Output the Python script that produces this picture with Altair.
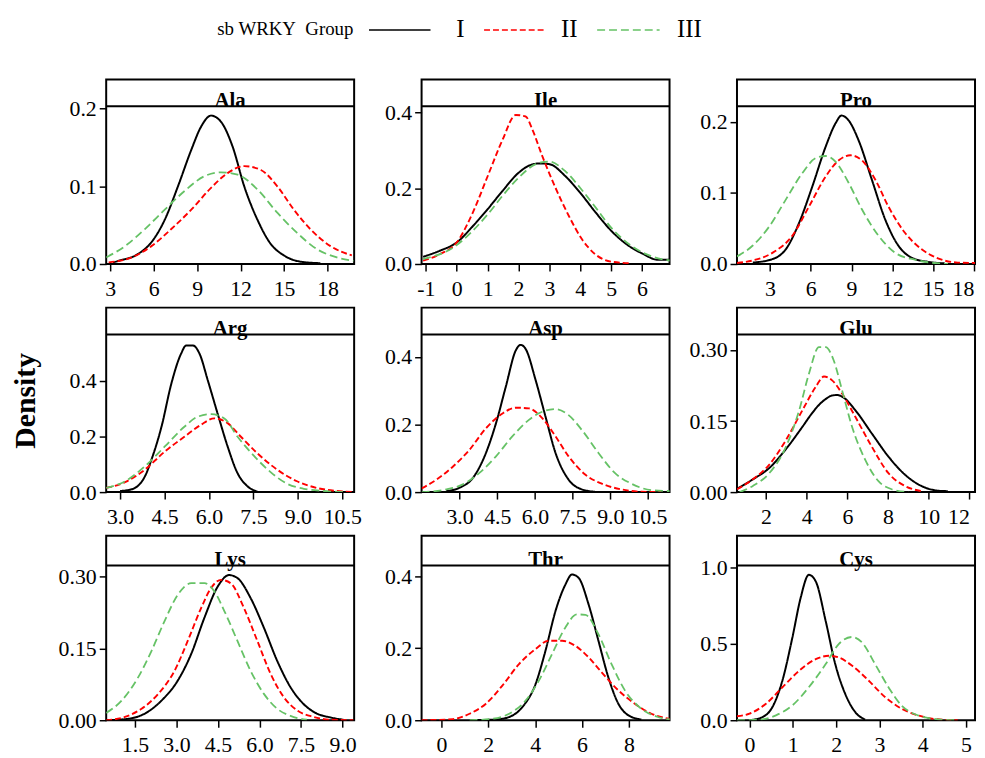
import altair as alt
import pandas as pd

SERIF = "Liberation Serif"
GROUPS = ["I", "II", "III"]
COLORS = ["#000000", "#ff0000", "#66c266"]
DASHES = [[1, 0], [6, 3], [8, 4]]
WIDTHS = [2.0, 1.8, 1.8]
LEGEND_TITLE = "sb WRKY\u00a0 Group"

# ---- density curves: (x, density) ----
ALA_I = [(3.2, 0.002), (3.57, 0.004), (4.94, 0.013), (5.85, 0.028), (6.77, 0.057), (7.68, 0.100),
         (8.6, 0.147), (9.28, 0.177), (9.96, 0.191), (10.65, 0.183), (11.45, 0.151), (12.25, 0.100),
         (13.16, 0.057), (14.07, 0.026), (14.99, 0.011), (16.13, 0.003), (17.5, 0.001)]
ALA_II = [(2.9, 0.002), (4.5, 0.0085), (5.85, 0.023), (7.22, 0.045), (8.6, 0.070), (9.96, 0.098),
          (11.1, 0.117), (12.25, 0.126), (13.4, 0.121), (14.53, 0.100), (15.67, 0.070), (16.8, 0.045),
          (18.2, 0.023), (19.67, 0.011)]
ALA_III = [(2.73, 0.0085), (4.03, 0.023), (5.4, 0.045), (6.77, 0.070), (8.14, 0.094), (9.5, 0.113),
           (10.65, 0.118), (11.8, 0.115), (13.16, 0.096), (14.53, 0.066), (15.9, 0.040), (17.27, 0.019),
           (18.64, 0.0085), (19.78, 0.004)]

ILE_I = [(-1.09, 0.019), (-0.55, 0.035), (0.0, 0.057), (0.52, 0.100), (1.0, 0.145), (1.48, 0.193),
         (2.0, 0.241), (2.4, 0.262), (2.7, 0.266), (3.0, 0.264), (3.52, 0.232), (4.0, 0.188),
         (4.5, 0.136), (5.0, 0.088), (5.57, 0.048), (6.0, 0.028), (6.52, 0.011), (6.89, 0.011)]
ILE_II = [(-1.09, 0.009), (-0.55, 0.026), (0.0, 0.057), (0.52, 0.136), (1.0, 0.232), (1.48, 0.328),
          (1.91, 0.394), (2.23, 0.390), (2.45, 0.355), (2.77, 0.285), (3.2, 0.201), (3.63, 0.127),
          (4.05, 0.066), (4.48, 0.026), (5.02, 0.006), (5.66, 0.002)]
ILE_III = [(-1.09, 0.013), (0.0, 0.050), (0.52, 0.088), (1.0, 0.131), (1.48, 0.180), (2.0, 0.228),
           (2.56, 0.264), (2.98, 0.271), (3.52, 0.245), (4.0, 0.201), (4.5, 0.149), (5.0, 0.096),
           (5.57, 0.053), (6.0, 0.031), (6.52, 0.015), (6.92, 0.009)]

PRO_I = [(1.73, 0.002), (3.2, 0.007), (4.17, 0.021), (5.14, 0.058), (6.11, 0.109), (7.09, 0.165),
         (7.82, 0.198), (8.26, 0.209), (8.79, 0.202), (9.52, 0.174), (10.49, 0.119), (11.47, 0.063),
         (12.44, 0.026), (13.41, 0.009), (14.63, 0.003), (15.85, 0.001)]
PRO_II = [(0.57, 0.0014), (1.73, 0.005), (3.2, 0.016), (4.65, 0.040), (5.87, 0.081), (7.09, 0.123),
          (8.06, 0.146), (8.91, 0.153), (9.76, 0.146), (10.74, 0.119), (11.71, 0.081), (12.93, 0.044),
          (14.14, 0.021), (15.36, 0.008), (16.82, 0.002), (18.3, 0.0014)]
PRO_III = [(0.57, 0.0107), (1.73, 0.026), (2.95, 0.053), (4.17, 0.091), (5.38, 0.128), (6.36, 0.149),
           (7.09, 0.152), (7.82, 0.144), (8.79, 0.114), (9.76, 0.077), (10.98, 0.040), (12.2, 0.016),
           (13.66, 0.006), (15.1, 0.0014), (16.1, 0.0)]

ARG_I = [(3.0, 0.004), (3.39, 0.010), (3.84, 0.057), (4.06, 0.117), (4.4, 0.236), (4.73, 0.390),
         (5.06, 0.498), (5.23, 0.527), (5.46, 0.527), (5.68, 0.498), (5.96, 0.402), (6.29, 0.283),
         (6.63, 0.164), (6.96, 0.069), (7.3, 0.021), (7.63, 0.002)]
ARG_II = [(2.53, 0.015), (3.17, 0.036), (3.84, 0.081), (4.51, 0.146), (5.18, 0.200), (5.73, 0.242),
          (6.18, 0.265), (6.63, 0.248), (7.07, 0.200), (7.63, 0.140), (8.3, 0.081), (8.97, 0.039),
          (9.64, 0.015), (10.31, 0.004), (10.87, 0.0)]
ARG_III = [(2.53, 0.015), (3.17, 0.039), (3.84, 0.093), (4.51, 0.164), (5.18, 0.236), (5.62, 0.271),
           (6.07, 0.280), (6.52, 0.265), (6.96, 0.200), (7.52, 0.130), (8.08, 0.072), (8.64, 0.030),
           (9.2, 0.012), (9.86, 0.004), (10.53, 0.0)]

ASP_I = [(2.47, 0.003), (3.0, 0.013), (3.53, 0.042), (4.05, 0.116), (4.45, 0.204), (4.84, 0.312),
         (5.24, 0.420), (5.43, 0.436), (5.63, 0.424), (6.03, 0.331), (6.42, 0.224), (6.82, 0.116),
         (7.34, 0.037), (7.87, 0.008), (8.39, 0.001)]
ASP_II = [(1.49, 0.011), (2.08, 0.037), (2.74, 0.076), (3.39, 0.125), (4.05, 0.189), (4.71, 0.233),
          (5.24, 0.250), (5.76, 0.248), (6.29, 0.219), (6.82, 0.165), (7.34, 0.106), (8.0, 0.052),
          (8.66, 0.025), (9.45, 0.008), (10.24, 0.001), (11.03, 0.0)]
ASP_III = [(1.49, 0.0), (2.47, 0.008), (3.13, 0.023), (3.79, 0.057), (4.45, 0.106), (5.1, 0.165),
           (5.76, 0.214), (6.29, 0.238), (6.82, 0.246), (7.34, 0.228), (7.87, 0.184), (8.53, 0.116),
           (9.18, 0.057), (9.84, 0.025), (10.63, 0.006), (11.39, 0.003)]

GLU_I = [(0.57, 0.007), (1.35, 0.027), (2.16, 0.051), (2.98, 0.091), (3.79, 0.138), (4.2, 0.163),
         (4.6, 0.184), (4.95, 0.197), (5.25, 0.204), (5.5, 0.205), (5.8, 0.200), (6.39, 0.173),
         (7.2, 0.124), (8.02, 0.075), (8.83, 0.037), (9.64, 0.013), (10.46, 0.003), (10.94, 0.002)]
GLU_II = [(0.57, 0.006), (1.35, 0.027), (2.16, 0.058), (2.98, 0.110), (3.79, 0.173), (4.44, 0.222),
          (4.85, 0.244), (5.25, 0.236), (5.74, 0.208), (6.39, 0.159), (7.2, 0.096), (8.02, 0.040),
          (8.83, 0.013), (9.64, 0.002)]
GLU_III = [(0.7, 0.0), (1.35, 0.013), (2.16, 0.040), (2.98, 0.096), (3.63, 0.173), (4.11, 0.250),
           (4.6, 0.306), (4.93, 0.306), (5.33, 0.278), (5.74, 0.215), (6.23, 0.138), (6.88, 0.068),
           (7.53, 0.023), (8.18, 0.006), (9.0, 0.0)]

LYS_I = [(0.46, 0.0), (1.26, 0.003), (1.86, 0.014), (2.46, 0.041), (3.05, 0.083), (3.53, 0.138),
         (4.01, 0.214), (4.49, 0.279), (4.9, 0.303), (5.2, 0.297), (5.68, 0.255), (6.16, 0.193),
         (6.64, 0.124), (7.12, 0.069), (7.59, 0.034), (8.07, 0.014), (8.55, 0.006), (9.03, 0.001)]
LYS_II = [(0.46, 0.0), (1.14, 0.007), (1.74, 0.024), (2.34, 0.055), (2.93, 0.103), (3.41, 0.166),
          (3.89, 0.234), (4.25, 0.276), (4.61, 0.293), (4.96, 0.286), (5.44, 0.234), (5.92, 0.166),
          (6.4, 0.097), (6.88, 0.048), (7.35, 0.021), (7.95, 0.007), (8.55, 0.001), (9.39, 0.0)]
LYS_III = [(0.46, 0.015), (1.02, 0.041), (1.62, 0.090), (2.1, 0.145), (2.57, 0.207), (3.05, 0.262),
           (3.53, 0.286), (4.01, 0.286), (4.37, 0.269), (4.73, 0.228), (5.2, 0.166), (5.68, 0.103),
           (6.16, 0.055), (6.64, 0.024), (7.12, 0.009), (7.71, 0.001)]

THR_I = [(1.2, 0.0), (2.33, 0.002), (2.89, 0.009), (3.46, 0.037), (4.02, 0.101), (4.44, 0.193),
         (4.87, 0.304), (5.29, 0.377), (5.57, 0.405), (5.85, 0.396), (6.28, 0.322), (6.7, 0.221),
         (7.12, 0.120), (7.55, 0.046), (7.97, 0.014), (8.53, 0.002)]
THR_II = [(-0.85, 0.0), (0.49, 0.003), (1.2, 0.018), (1.9, 0.046), (2.61, 0.097), (3.31, 0.156),
          (4.02, 0.198), (4.58, 0.221), (5.15, 0.221), (5.71, 0.207), (6.28, 0.175), (6.84, 0.133),
          (7.55, 0.083), (8.25, 0.046), (8.96, 0.018), (9.77, 0.003)]
THR_III = [(1.2, 0.0), (2.05, 0.003), (2.89, 0.018), (3.6, 0.055), (4.16, 0.110), (4.72, 0.184),
           (5.29, 0.258), (5.78, 0.294), (6.14, 0.293), (6.7, 0.239), (7.26, 0.156), (7.83, 0.083),
           (8.53, 0.032), (9.24, 0.009), (9.77, 0.002)]

CYS_I = [(0.0, 0.0), (0.31, 0.022), (0.53, 0.087), (0.76, 0.26), (0.99, 0.541), (1.18, 0.80),
         (1.37, 0.952), (1.53, 0.909), (1.76, 0.649), (1.98, 0.368), (2.21, 0.173), (2.44, 0.054),
         (2.67, 0.004)]
CYS_II = [(-0.29, 0.026), (0.0, 0.043), (0.38, 0.108), (0.76, 0.216), (1.15, 0.325), (1.53, 0.40),
          (1.83, 0.422), (2.06, 0.411), (2.37, 0.357), (2.75, 0.26), (3.13, 0.152), (3.51, 0.076),
          (3.89, 0.032), (4.35, 0.006), (4.81, 0.0)]
CYS_III = [(-0.29, 0.0), (0.23, 0.004), (0.61, 0.032), (0.99, 0.097), (1.37, 0.216), (1.76, 0.368),
           (2.06, 0.498), (2.37, 0.545), (2.6, 0.509), (2.9, 0.368), (3.21, 0.216), (3.51, 0.097),
           (3.89, 0.032), (4.35, 0.006), (4.81, 0.0)]

PANEL_NAMES = ["Ala", "Ile", "Pro", "Arg", "Asp", "Glu", "Lys", "Thr", "Cys"]
CURVES = {
    "Ala": (ALA_I, ALA_II, ALA_III), "Ile": (ILE_I, ILE_II, ILE_III), "Pro": (PRO_I, PRO_II, PRO_III),
    "Arg": (ARG_I, ARG_II, ARG_III), "Asp": (ASP_I, ASP_II, ASP_III), "Glu": (GLU_I, GLU_II, GLU_III),
    "Lys": (LYS_I, LYS_II, LYS_III), "Thr": (THR_I, THR_II, THR_III), "Cys": (CYS_I, CYS_II, CYS_III),
}
X_DOMAINS = {
    "Ala": [2.73, 19.83], "Ile": [-1.139, 6.89], "Pro": [0.565, 18.09],
    "Arg": [2.531, 10.90], "Asp": [1.487, 11.36], "Glu": [0.569, 12.28],
    "Lys": [0.461, 9.42], "Thr": [-0.847, 9.735], "Cys": [-0.29, 5.21],
}
X_TICKS = {
    "Ala": [3, 6, 9, 12, 15, 18], "Ile": [-1, 0, 1, 2, 3, 4, 5, 6], "Pro": [3, 6, 9, 12, 15, 18],
    "Arg": [3.0, 4.5, 6.0, 7.5, 9.0, 10.5], "Asp": [3.0, 4.5, 6.0, 7.5, 9.0, 10.5],
    "Glu": [2, 4, 6, 8, 10, 12], "Lys": [1.5, 3.0, 4.5, 6.0, 7.5, 9.0], "Thr": [0, 2, 4, 6, 8],
    "Cys": [0, 1, 2, 3, 4, 5],
}
X_FORMATS = {"Ala": "d", "Ile": "d", "Pro": "d", "Arg": ".1f", "Asp": ".1f", "Glu": "d",
             "Lys": ".1f", "Thr": "d", "Cys": "d"}
Y_AT_STRIP = {"Ala": 0.203, "Ile": 0.417, "Pro": 0.222, "Arg": 0.567, "Asp": 0.467, "Glu": 0.333,
              "Lys": 0.323, "Thr": 0.430, "Cys": 1.013}
Y_TICKS = {"Ala": [0, 0.1, 0.2], "Ile": [0, 0.2, 0.4], "Pro": [0, 0.1, 0.2], "Arg": [0, 0.2, 0.4],
           "Asp": [0, 0.2, 0.4], "Glu": [0, 0.15, 0.30], "Lys": [0, 0.15, 0.30], "Thr": [0, 0.2, 0.4],
           "Cys": [0, 0.5, 1.0]}
Y_FORMATS = {"Ala": ".1f", "Ile": ".1f", "Pro": ".1f", "Arg": ".1f", "Asp": ".1f", "Glu": ".2f",
             "Lys": ".2f", "Thr": ".1f", "Cys": ".1f"}

H = 186
COL_WIDTHS = [250, 250, 240]
STRIP_HEIGHTS = [27, 27, 30]
TICK_FONT = 22


def legend_layers():
    """Legend drawn above the top-middle panel (pixel offsets from that panel's origin)."""
    one = alt.Chart(pd.DataFrame({"label": [LEGEND_TITLE]}))
    layers = [one.mark_text(font=SERIF, fontSize=19, align="left", baseline="middle",
                            color="black").encode(x=alt.value(-206), y=alt.value(-51), text="label:N")]
    sym_x = [(-53, 9), (63, 125), (177, 240)]
    lab_x = [39, 149, 270]
    for g, c, d, (a, b), lx in zip(GROUPS, COLORS, DASHES, sym_x, lab_x):
        gdf = alt.Chart(pd.DataFrame({"label": [g]}))
        layers.append(gdf.mark_rule(color=c, strokeDash=d, strokeWidth=1.6).encode(
            x=alt.value(a), x2=alt.value(b), y=alt.value(-50)))
        layers.append(gdf.mark_text(font=SERIF, fontSize=25, align="center", baseline="middle",
                                    color="black").encode(x=alt.value(lx), y=alt.value(-51),
                                                          text="label:N"))
    return layers


def panel(idx, name):
    row, col = divmod(idx, 3)
    W = COL_WIDTHS[col]
    S = STRIP_HEIGHTS[row]
    recs = []
    for g, pts in zip(GROUPS, CURVES[name]):
        for i, (x, y) in enumerate(pts):
            recs.append({"x": x, "density": y, "group": g, "order": i})
    df = pd.DataFrame(recs)
    ytop = Y_AT_STRIP[name] * H / (H - S)
    xaxis_kw = dict(values=X_TICKS[name], format=X_FORMATS[name], title=None,
                    labelFont=SERIF, labelFontSize=TICK_FONT)
    if name == "Ile":
        xaxis_kw["labelExpr"] = "'' + datum.value"
    if col == 2:
        xaxis_kw["labelFlush"] = 8
    lines = alt.Chart(df).mark_line(interpolate="monotone", clip=True).encode(
        x=alt.X("x:Q", scale=alt.Scale(domain=X_DOMAINS[name], nice=False, zero=False),
                axis=alt.Axis(**xaxis_kw)),
        y=alt.Y("density:Q", scale=alt.Scale(domain=[0, ytop], nice=False),
                axis=alt.Axis(values=Y_TICKS[name], format=Y_FORMATS[name], title=None,
                              labelFont=SERIF, labelFontSize=TICK_FONT)),
        color=alt.Color("group:N", scale=alt.Scale(domain=GROUPS, range=COLORS), legend=None),
        strokeDash=alt.StrokeDash("group:N", scale=alt.Scale(domain=GROUPS, range=DASHES), legend=None),
        strokeWidth=alt.StrokeWidth("group:N", scale=alt.Scale(domain=GROUPS, range=WIDTHS), legend=None),
        order="order:Q",
    )
    lab = alt.Chart(pd.DataFrame({"label": [name]}))
    rule = lab.mark_rule(color="black", strokeWidth=2).encode(
        x=alt.value(0), x2=alt.value(W), y=alt.value(S))
    title = lab.mark_text(font=SERIF, fontSize=21, fontWeight="bold", baseline="alphabetic",
                          align="center", color="black").encode(
        x=alt.value(W / 2), y=alt.value(S + 1), text="label:N")
    layers = [lines, rule, title]
    if name == "Arg":
        dens = alt.Chart(pd.DataFrame({"label": ["Density"]})).mark_text(
            font=SERIF, fontSize=30, fontWeight="bold", angle=270, baseline="middle",
            align="center", color="black").encode(
            x=alt.value(-81), y=alt.value(94), text="label:N")
        layers.append(dens)
    if name == "Ile":
        layers.extend(legend_layers())
    return alt.layer(*layers).properties(width=W, height=H)


panels = [panel(i, n) for i, n in enumerate(PANEL_NAMES)]

chart = alt.concat(*panels, columns=3, spacing={"row": 44, "column": 68}, bounds="flush").properties(
    padding={"left": 2, "top": 5, "right": 0, "bottom": 0}
).configure_view(
    stroke="black", strokeWidth=2
).configure_axis(
    labelFont=SERIF, labelFontSize=TICK_FONT, labelColor="black", tickColor="black", tickWidth=1.5,
    tickSize=7, domain=False, grid=False, labelPadding=3,
).configure_axisX(labelPadding=8)

chart.save("out.html", embed_options={"renderer": "svg", "actions": False})
